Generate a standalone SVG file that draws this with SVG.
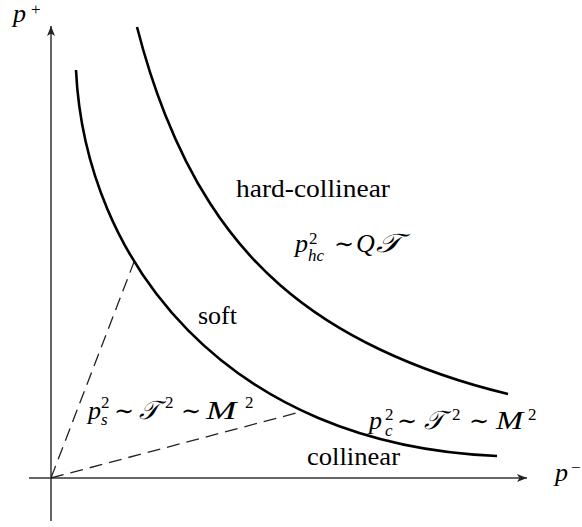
<svg xmlns="http://www.w3.org/2000/svg" width="582" height="527" viewBox="0 0 582 527">
  <style>
    .axis { stroke: #333; stroke-width: 1.5; fill: none; }
    .curve { stroke: #000; stroke-width: 2.6; fill: none; stroke-linecap: butt; }
    .dash { stroke: #222; stroke-width: 1.3; fill: none; stroke-dasharray: 13 7; }
    text { font-family: "Liberation Serif", "DejaVu Serif", serif; fill: #000; }
    .rm { font-size: 26px; }
    .mi { font-size: 26px; font-style: italic; }
    .sm { font-size: 17px; font-style: normal; }
    .smi { font-size: 17px; font-style: italic; }
    .op { font-size: 24px; font-family: "DejaVu Serif", "DejaVu Sans", serif; }
    .cal { font-size: 26px; font-family: "DejaVu Serif", "DejaVu Sans", "Noto Sans", serif; font-style: italic; }
  </style>
  <defs>
    <marker id="arrow" markerUnits="userSpaceOnUse" markerWidth="12" markerHeight="10" refX="10" refY="4" orient="auto">
      <path d="M0,0 L10,4 L0,8 L2.5,4 Z" fill="#222"/>
    </marker>
  </defs>
  <rect width="582" height="527" fill="#fff"/>

  <g id="axes">
    <line class="axis" x1="51" y1="521" x2="51" y2="26" marker-end="url(#arrow)"/>
    <line class="axis" x1="29" y1="478" x2="527" y2="478" marker-end="url(#arrow)"/>
  </g>

  <g id="connectors">
    <line class="dash" x1="51" y1="478" x2="134" y2="262"/>
    <line class="dash" x1="51" y1="478" x2="300" y2="412"/>
  </g>

  <g id="curves">
    <path id="inner-curve" class="curve" d="M76,70 C85,260 225,445 497,456"/>
    <path id="outer-curve" class="curve" d="M137,27 C146.33,63.4 155.67,90.7 165,114.2 C180,152 195,180 210,203.3 C233.33,239.6 256.67,264.6 280,285 C313.33,314.2 346.67,333.7 380,349.5 C422.67,369.8 465.33,383.7 508,394"/>
  </g>

  <g id="axis-labels">
    <text id="label-pplus" x="13" y="22"><tspan class="mi" font-size="23">p</tspan><tspan class="sm" x="31" y="15" font-size="15">+</tspan></text>
    <text id="label-pminus" x="555" y="481"><tspan class="mi">p</tspan><tspan class="sm" x="571" y="473">−</tspan></text>
  </g>

  <g id="region-hard-collinear">
    <text class="rm" x="236" y="197" textLength="154" lengthAdjust="spacingAndGlyphs">hard-collinear</text>
    <text x="295" y="252"><tspan class="mi">p</tspan><tspan class="sm" x="309" y="244">2</tspan><tspan class="smi" x="308" y="261">hc</tspan></text>
    <text class="op" x="334" y="252">∼</text>
    <text class="mi" x="356" y="252">Q</text>
    <text class="cal" transform="translate(376,252) scale(1.25,1)">𝒯</text>
  </g>

  <g id="region-soft">
    <text class="rm" x="198" y="324">soft</text>
    <text x="88" y="419"><tspan class="mi">p</tspan><tspan class="sm" x="101" y="408">2</tspan><tspan class="smi" x="101" y="425">s</tspan></text>
    <text class="op" x="114" y="419">∼</text>
    <text x="139" y="419"><tspan class="cal">𝒯</tspan><tspan class="sm" x="165" y="408">2</tspan></text>
    <text class="op" x="181" y="419">∼</text>
    <text class="mi" transform="translate(206,419) scale(1.4,1)">M</text>
    <text class="sm" x="245" y="408">2</text>
  </g>

  <g id="region-collinear">
    <text class="rm" x="307" y="465" textLength="93" lengthAdjust="spacingAndGlyphs">collinear</text>
    <text x="369" y="429"><tspan class="mi">p</tspan><tspan class="sm" x="385" y="420">2</tspan><tspan class="smi" x="385" y="436">c</tspan></text>
    <text class="op" x="397" y="429">∼</text>
    <text x="424" y="429"><tspan class="cal">𝒯</tspan><tspan class="sm" x="452" y="420">2</tspan></text>
    <text class="op" x="469" y="429">∼</text>
    <text class="mi" transform="translate(496,429) scale(1.25,1)">M</text>
    <text class="sm" x="528" y="420">2</text>
  </g>
</svg>
